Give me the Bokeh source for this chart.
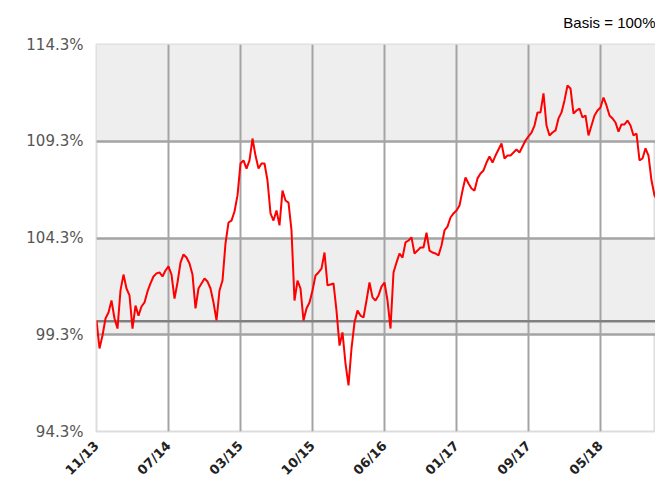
import math
from bokeh.plotting import figure
from bokeh.models import (Range1d, FixedTicker, PrintfTickFormatter, Span, Grid,
                          Title, ColumnDataSource)
from bokeh.embed import file_html
from bokeh.resources import INLINE

# ---- data ----
values = [
    100.04, 98.59, 99.26, 100.14, 100.45, 101.07, 100.14, 99.62, 101.59, 102.41,
    101.69, 101.33, 99.62, 100.81, 100.29, 100.76, 100.97, 101.54, 101.95, 102.31,
    102.47, 102.52, 102.31, 102.62, 102.83, 102.41, 101.17, 102.00, 103.03, 103.45,
    103.29, 102.98, 102.41, 100.66, 101.69, 101.95, 102.21, 102.05, 101.69, 100.97,
    100.04, 101.59, 102.10, 104.02, 105.10, 105.20, 105.67, 106.50, 108.15, 108.31,
    107.89, 108.31, 109.44, 108.56, 107.89, 108.15, 108.15, 107.27, 105.57, 105.20,
    105.72, 104.95, 106.75, 106.24, 106.13, 104.69, 101.07, 102.10, 101.69, 100.04,
    100.66, 100.97, 101.59, 102.36, 102.52, 102.72, 103.55, 101.85, 101.90, 101.95,
    100.55, 98.74, 99.42, 97.81, 96.68, 98.59, 99.93, 100.55, 100.29, 100.19,
    101.07, 102.00, 101.23, 101.07, 101.33, 101.79, 102.00, 101.07, 99.62, 102.52,
    103.03, 103.50, 103.29, 104.07, 104.17, 104.33, 103.50, 103.65, 103.81, 103.81,
    104.58, 103.65, 103.55, 103.50, 103.40, 103.91, 104.69, 104.89, 105.36, 105.57,
    105.72, 105.98, 106.75, 107.43, 107.12, 106.86, 106.75, 107.38, 107.63, 107.79,
    108.20, 108.51, 108.20, 108.56, 108.87, 109.18, 108.41, 108.56, 108.56, 108.72,
    108.87, 108.72, 109.03, 109.34, 109.55, 109.75, 110.11, 110.79, 110.79, 111.77,
    110.11, 109.60, 109.75, 109.86, 110.48, 110.79, 111.41, 112.18, 112.03, 110.73,
    110.89, 110.99, 110.53, 110.63, 109.60, 110.11, 110.63, 110.89, 111.04, 111.56,
    111.15, 110.63, 110.48, 110.27, 109.80, 110.17, 110.17, 110.37, 110.11, 109.60,
    109.70, 108.31, 108.41, 108.93, 108.56, 107.27, 106.50, 106.24, 107.63, 105.72,
]
x_tick_positions = [0, 24, 48, 72, 96, 120, 144, 168]
x_tick_labels = ["11/13", "07/14", "03/15", "10/15", "06/16", "01/17", "09/17", "05/18"]
y_ticks = [94.3, 99.3, 104.3, 109.3, 114.3]
basis_value = 100.0
basis_text = "Basis = 100%"

xs = list(range(len(values)))
source = ColumnDataSource(data=dict(x=xs, y=values))

X_END = 559 / 3  # frame 96..655 px wide, 3 px per point

p = figure(width=655, height=487, output_backend="svg", toolbar_location=None,
           x_range=Range1d(0, X_END), y_range=Range1d(y_ticks[0], y_ticks[-1]),
           min_border_left=96, min_border_right=0, min_border_top=44, min_border_bottom=56)

p.background_fill_color = "white"
p.border_fill_color = "white"
p.outline_line_color = "#dddddd"
p.outline_line_width = 2

# alternating bands
band_grid = Grid(dimension=1, ticker=FixedTicker(ticks=y_ticks), grid_line_color=None,
                 band_fill_color="#eeeeee", band_fill_alpha=1.0)
p.center = [band_grid] + list(p.center)

# grid lines
p.xgrid.ticker = FixedTicker(ticks=x_tick_positions[1:])
p.xgrid.grid_line_color = "#a4a4a4"
p.xgrid.grid_line_width = 2
p.ygrid.ticker = FixedTicker(ticks=y_ticks[1:-1])
p.ygrid.grid_line_color = "#a4a4a4"
p.ygrid.grid_line_width = 2

basis = Span(location=basis_value, dimension="width", line_color="#808080",
             line_width=2.5, level="underlay")
p.add_layout(basis)

p.line("x", "y", source=source, line_color="#ff0000", line_width=2)

# axes
p.axis.axis_line_color = None
p.axis.major_tick_line_color = None
p.axis.minor_tick_line_color = None
p.axis.major_tick_out = 0
p.axis.major_tick_in = 0

p.xaxis.ticker = FixedTicker(ticks=x_tick_positions)
p.xaxis.major_label_overrides = {k: v for k, v in zip(x_tick_positions, x_tick_labels)}
p.xaxis.major_label_orientation = math.radians(45)
p.xaxis.major_label_text_font = "DejaVu Sans"
p.xaxis.major_label_text_font_size = "13px"
p.xaxis.major_label_text_font_style = "bold"
p.xaxis.major_label_text_color = "#222222"
p.xaxis.major_label_standoff = 12

p.yaxis.ticker = FixedTicker(ticks=y_ticks)
p.yaxis.formatter = PrintfTickFormatter(format="%.1f%%")
p.yaxis.major_label_text_font = "DejaVu Sans"
p.yaxis.major_label_text_font_size = "15px"
p.yaxis.major_label_text_color = "#555555"
p.yaxis.major_label_standoff = 13

title = Title(text=basis_text, align="right", vertical_align="top",
              text_font="Liberation Sans", text_font_size="15px",
              text_font_style="normal", text_color="black", standoff=24)
p.add_layout(title, "above")

open("out.html", "w").write(file_html(p, INLINE))
